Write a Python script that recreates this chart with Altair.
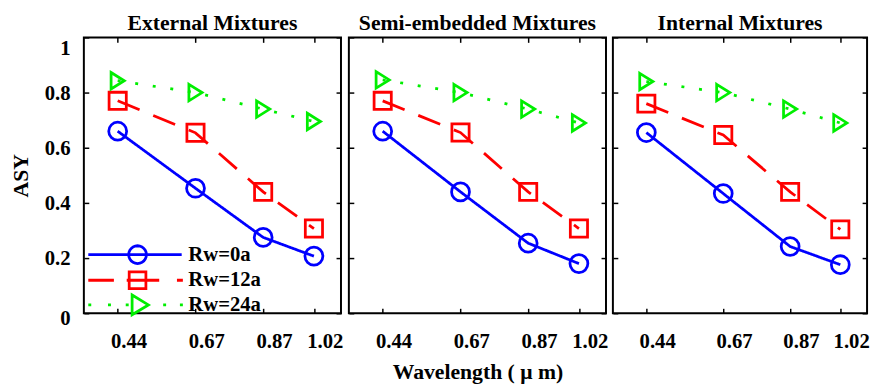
import math
import altair as alt
import pandas as pd

wavelengths = [0.44, 0.67, 0.87, 1.02]
series_names = ["Rw=0a", "Rw=12a", "Rw=24a"]
panel_titles = ["External Mixtures", "Semi-embedded Mixtures", "Internal Mixtures"]

ext_rw0 = [0.66, 0.453, 0.275, 0.207]
ext_rw12 = [0.77, 0.654, 0.44, 0.307]
ext_rw24 = [0.843, 0.80, 0.74, 0.695]
semi_rw0 = [0.66, 0.44, 0.254, 0.18]
semi_rw12 = [0.77, 0.655, 0.44, 0.307]
semi_rw24 = [0.846, 0.80, 0.74, 0.69]
int_rw0 = [0.655, 0.434, 0.242, 0.176]
int_rw12 = [0.76, 0.646, 0.44, 0.304]
int_rw24 = [0.84, 0.80, 0.74, 0.69]

y_ticks = [0, 0.2, 0.4, 0.6, 0.8, 1]

colors = ["#0000ff", "#ff0000", "#00ee00"]
dashes = [[1, 0], [24, 15], [3, 15]]
tri_path = "M-0.8,-1L0.8,0L-0.8,1Z"
point_shapes = ["circle", "square", tri_path]
point_sizes = [330, 280, 484]

# legend glyph outlines (line style + marker), unit = 8 px
_r = 1.125
_circ = "M" + "L".join(
    "%.3f,%.3f" % (_r * math.cos(2 * math.pi * k / 24), _r * math.sin(2 * math.pi * k / 24))
    for k in range(24)
) + "Z"
legend_paths = [
    "M-6.25,0L5.6,0" + _circ,
    "M-6.25,0L-3,0M-1.375,0L2.75,0M5,0L5.75,0M-1.06,-1.06L1.06,-1.06L1.06,1.06L-1.06,1.06Z",
    "M-6.25,0L-5.875,0M-3.75,0L-3.375,0M-1.5,0L-1.125,0M3.25,0L3.625,0M5.375,0L5.75,0"
    "M-0.69,-1.25L1.375,0L-0.69,1.25Z",
]

panel_data = [
    [ext_rw0, ext_rw12, ext_rw24],
    [semi_rw0, semi_rw12, semi_rw24],
    [int_rw0, int_rw12, int_rw24],
]

FONT = "Liberation Serif"
LW = 2.8


def make_df(vals):
    rows = []
    for name, ys in zip(series_names, vals):
        for w, y in zip(wavelengths, ys):
            rows.append({"series": name, "wl": w, "asy": y})
    return pd.DataFrame(rows)


def leg_params():
    return alt.Legend(title=None, orient="none", legendX=44, legendY=210,
                      labelFont=FONT, labelFontSize=21, labelFontWeight="bold",
                      labelColor="black", labelOffset=41, symbolSize=256,
                      symbolStrokeWidth=LW, rowPadding=-11)


def make_panel(i, width):
    df = make_df(panel_data[i])
    base = alt.Chart(df)
    xscale = alt.Scale(domain=[0.34, 1.10], nice=False, zero=False)
    yscale = alt.Scale(domain=[0, 1], nice=False)
    color = alt.Color("series:N", scale=alt.Scale(domain=series_names, range=colors), legend=None)

    x_axis_main = alt.Axis(
        orient="bottom", values=wavelengths, format=".2f",
        title="Wavelength ( μ m)" if i == 1 else None,
        grid=False, domain=False, tickSize={"expr": "-5"}, tickColor="black", tickWidth=1.5,
        labelFont=FONT, labelFontSize=21, labelFontWeight="bold", labelColor="black",
        labelPadding=23, labelOffset=11,
        titleFont=FONT, titleFontSize=22, titleFontWeight="bold",
        titleColor="black", titlePadding=10,
    )
    y_axis_main = alt.Axis(
        orient="left", values=y_ticks, format="~g",
        title="ASY" if i == 0 else None, labels=(i == 0),
        grid=False, domain=False, tickSize={"expr": "-5"}, tickColor="black", tickWidth=1.5,
        labelFont=FONT, labelFontSize=21, labelFontWeight="bold", labelColor="black",
        labelPadding=19,
        labelOffset={"condition": [{"test": "datum.value == 1", "value": 11},
                                   {"test": "datum.value == 0", "value": 5}],
                     "value": 1},
        titleFont=FONT, titleFontSize=22, titleFontWeight="bold",
        titleColor="black", titlePadding=12,
    )
    x_axis_top = alt.Axis(orient="top", values=wavelengths, labels=False, title=None,
                          grid=False, domain=False, tickSize={"expr": "-5"},
                          tickColor="black", tickWidth=1.5)
    y_axis_right = alt.Axis(orient="right", values=y_ticks, labels=False, title=None,
                            grid=False, domain=False, tickSize={"expr": "-5"},
                            tickColor="black", tickWidth=1.5)

    lines = base.mark_line(strokeWidth=LW).encode(
        x=alt.X("wl:Q", scale=xscale, axis=x_axis_main),
        y=alt.Y("asy:Q", scale=yscale, axis=y_axis_main),
        color=color,
        strokeDash=alt.StrokeDash("series:N", scale=alt.Scale(domain=series_names, range=dashes), legend=None),
        detail="series:N",
    )
    points = base.mark_point(filled=False, strokeWidth=LW, opacity=1).encode(
        x=alt.X("wl:Q", scale=xscale, axis=x_axis_top),
        y=alt.Y("asy:Q", scale=yscale, axis=y_axis_right),
        color=color,
        shape=alt.Shape("series:N", scale=alt.Scale(domain=series_names, range=point_shapes), legend=None),
        size=alt.Size("series:N", scale=alt.Scale(domain=series_names, range=point_sizes), legend=None),
    )
    layers = [lines, points]
    if i == 0:
        leg = base.transform_filter("datum.asy > 5").mark_point(
            filled=False, strokeWidth=LW, opacity=1
        ).encode(
            color=alt.Color("series:N", scale=alt.Scale(domain=series_names, range=colors),
                            legend=leg_params()),
            shape=alt.Shape("series:N", scale=alt.Scale(domain=series_names, range=legend_paths),
                            legend=leg_params()),
        )
        layers.append(leg)
    ch = alt.layer(*layers).resolve_scale(
        color="independent", shape="independent", size="independent", strokeDash="independent"
    ).resolve_axis(x="independent", y="independent").properties(
        width=width, height=280,
        title=alt.TitleParams(panel_titles[i], font=FONT, fontSize=22, fontWeight="bold",
                              color="black", offset=2, anchor="middle"),
    )
    return ch


p1 = make_panel(0, 261)
p2 = make_panel(1, 261)
p3 = make_panel(2, 258)

chart = alt.hconcat(p1, alt.hconcat(p2, p3, spacing=2), spacing=3).properties(
    padding={"left": 0, "top": 0, "right": 0, "bottom": 0},
    background="white",
).configure_view(stroke="black", strokeWidth=2)

chart.save("out.html", embed_options={"renderer": "svg", "actions": False})
